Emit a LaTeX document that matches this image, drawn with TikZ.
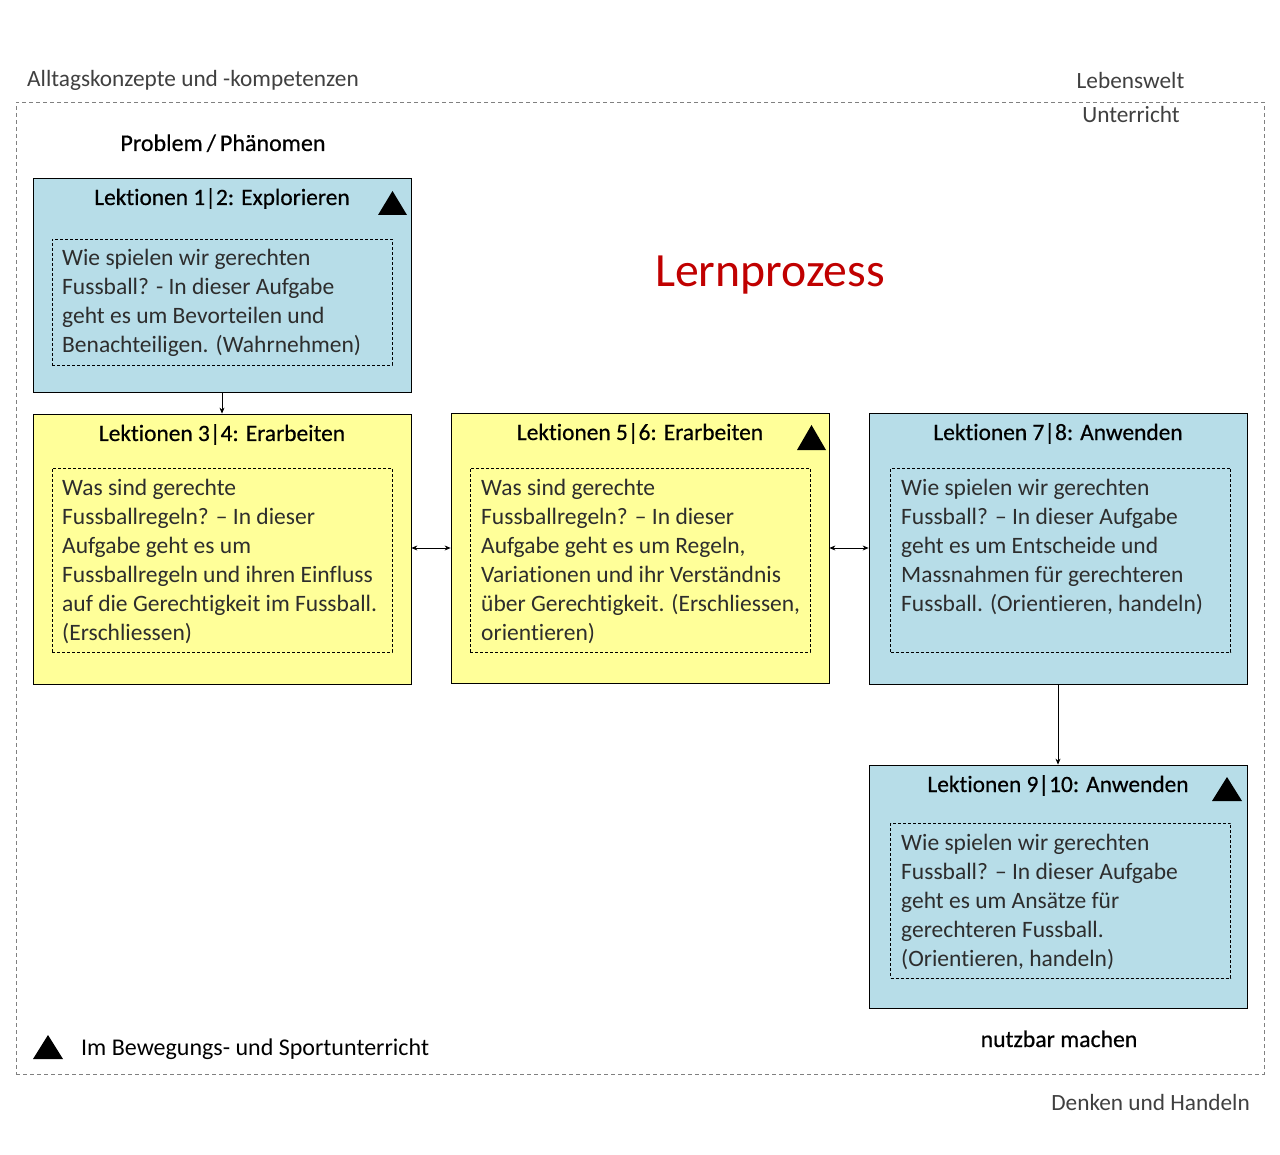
\documentclass[tikz,border=0pt]{standalone}
\usepackage{fontspec}
\setmainfont{Carlito}[Ligatures={TeX,NoCommon}]
\newfontfamily\headfont{Carlito}[Ligatures={TeX,NoCommon},FakeBold=0.5]
\usetikzlibrary{arrows.meta}
\definecolor{boxblue}{RGB}{183,221,232}
\definecolor{boxyellow}{RGB}{255,255,153}
\definecolor{lernred}{RGB}{192,0,0}
\definecolor{bodytxt}{RGB}{45,45,45}
\definecolor{outertxt}{RGB}{64,64,64}
\begin{document}
\begin{tikzpicture}[x=1pt,y=-1pt,
  lesson/.style={draw=black,line width=0.8pt,minimum width=378pt,inner sep=0pt},
  bluebox/.style={lesson,fill=boxblue},
  yellowbox/.style={lesson,fill=boxyellow},
  innerbox/.style={draw=black,line width=0.6pt,dash pattern=on 3pt off 2pt,minimum width=340pt,inner sep=0pt},
  titletxt/.style={font=\headfont\fontsize{23.4}{27}\selectfont,text=black,inner sep=0pt,anchor=base},
  bodytext/.style={font=\fontsize{23.5}{29}\selectfont,text=bodytxt,align=left,inner sep=0pt,anchor=north west},
  outerlabel/.style={font=\fontsize{23.3}{27}\selectfont,text=outertxt,inner sep=0pt,anchor=base},
  flowarrow/.style={-{Stealth[length=6pt,width=5pt]},line width=0.7pt},
  biarrow/.style={{Stealth[length=6pt,width=5pt]}-{Stealth[length=6pt,width=5pt]},line width=0.7pt},
  tri/.style={fill=black}
]
\useasboundingbox (0,0) rectangle (1280,1155);
% outer dashed frame
\node[draw=black!50,line width=0.7pt,dash pattern=on 4pt off 3pt,minimum width=1248pt,minimum height=972pt,inner sep=0pt] (frame) at (640,588) {};
\node[outerlabel,anchor=base west] (alltag) at (27,87) {Alltagskonzepte und -kompetenzen};
\node[outerlabel] (lebenswelt) at (1130.5,89) {Lebenswelt};
\node[outerlabel] (unterricht) at (1131,123) {Unterricht};
\node[outerlabel,anchor=base east] (denken) at (1250,1110) {Denken und Handeln};
\node[titletxt,font=\headfont\fontsize{24}{28}\selectfont] (problem) at (223,151) {Problem\,/\,Phänomen};
\node[titletxt,font=\headfont\fontsize{23.7}{28}\selectfont] (nutzbar) at (1059,1047) {nutzbar machen};
\node[font=\fontsize{47.7}{56}\selectfont,text=lernred,inner sep=0pt,anchor=base] (lern) at (770,287) {Lernprozess};

% Box 1
\node[bluebox,minimum height=214pt] (b1) at (222,285) {};
\node[titletxt] (t1) at (222,205) {Lektionen 1|2: Explorieren};
\fill[tri] (378,215) -- (407,215) -- (392.5,191) -- cycle;
\node[innerbox,minimum height=126pt] (i1) at (222,302) {};
\node[bodytext] (x1) at (62,248.5) {Wie spielen wir gerechten\\Fussball? - In dieser Aufgabe\\geht es um Bevorteilen und\\Benachteiligen. (Wahrnehmen)};

% Box 2
\node[yellowbox,minimum height=270pt] (b2) at (222,549) {};
\node[titletxt] (t2) at (222,441) {Lektionen 3|4: Erarbeiten};
\node[innerbox,minimum height=184pt] (i2) at (222,560) {};
\node[bodytext] (x2) at (62,478.5) {Was sind gerechte\\Fussballregeln? – In dieser\\Aufgabe geht es um\\Fussballregeln  und ihren Einfluss\\auf die Gerechtigkeit im Fussball.\\(Erschliessen)};

% Box 3
\node[yellowbox,minimum height=270pt] (b3) at (640,548) {};
\node[titletxt] (t3) at (640,440) {Lektionen 5|6: Erarbeiten};
\fill[tri] (797,450) -- (826,450) -- (811.5,425) -- cycle;
\node[innerbox,minimum height=184pt] (i3) at (640,560) {};
\node[bodytext] (x3) at (481,478.5) {Was sind gerechte\\Fussballregeln? – In dieser\\Aufgabe geht es um Regeln,\\Variationen und ihr Verständnis\\über Gerechtigkeit. (Erschliessen,\\orientieren)};

% Box 4
\node[bluebox,minimum height=271pt] (b4) at (1058,548.5) {};
\node[titletxt] (t4) at (1058,440) {Lektionen 7|8: Anwenden};
\node[innerbox,minimum height=184pt] (i4) at (1060.5,560) {};
\node[bodytext] (x4) at (901,478.5) {Wie spielen wir gerechten\\Fussball? – In dieser Aufgabe\\geht es um Entscheide und\\Massnahmen für gerechteren\\Fussball. (Orientieren, handeln)};

% Box 5
\node[bluebox,minimum height=243pt] (b5) at (1058,886.5) {};
\node[titletxt] (t5) at (1058,792) {Lektionen 9|10: Anwenden};
\fill[tri] (1212,801) -- (1242,801) -- (1227,777) -- cycle;
\node[innerbox,minimum height=155pt] (i5) at (1060.5,900.5) {};
\node[bodytext] (x5) at (901,833.5) {Wie spielen wir gerechten\\Fussball? – In dieser Aufgabe\\geht es um Ansätze für\\gerechteren Fussball.\\(Orientieren, handeln)};

% connectors
\draw[flowarrow] (b1.south) -- (b2.north);
\draw[biarrow] (b2.east |- 0,548) -- (b3.west |- 0,548);
\draw[biarrow] (b3.east |- 0,548) -- (b4.west |- 0,548);
\draw[flowarrow] (b4.south) -- (b5.north);

% legend
\fill[tri] (33,1059) -- (63,1059) -- (48,1035) -- cycle;
\node[font=\fontsize{24}{28}\selectfont,text=black,inner sep=0pt,anchor=base west] (legend) at (81,1055) {Im Bewegungs- und Sportunterricht};
\end{tikzpicture}
\end{document}
